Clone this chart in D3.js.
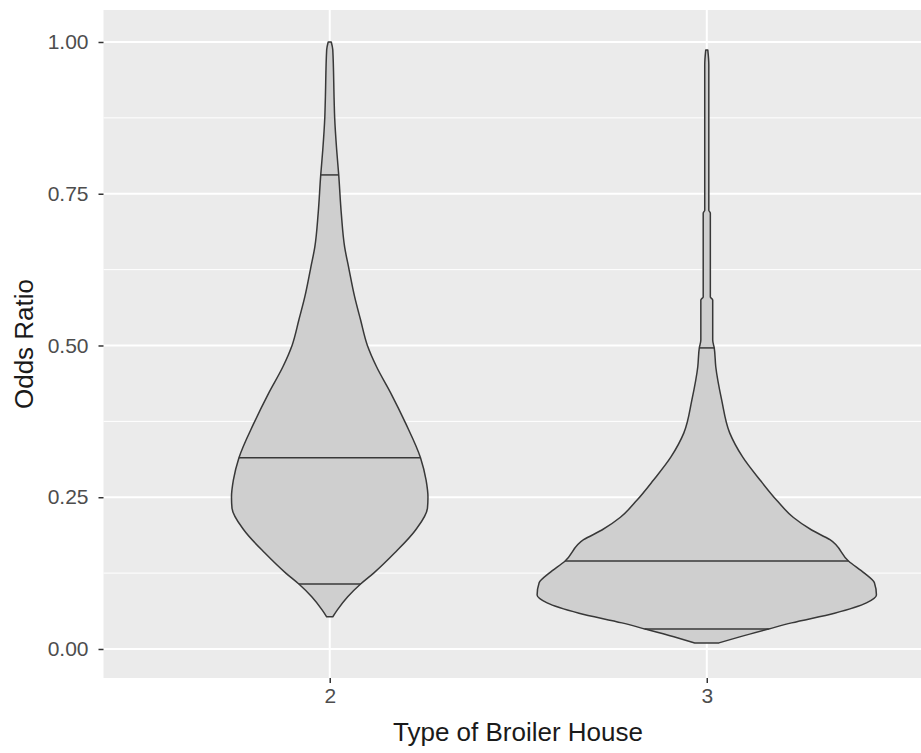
<!DOCTYPE html>
<html>
<head>
<meta charset="utf-8">
<script src="https://cdn.jsdelivr.net/npm/d3@7"></script>
<style>
  html, body { margin: 0; padding: 0; background: #ffffff; }
  svg { display: block; }
</style>
</head>
<body>
<svg id="chart" width="921" height="753"></svg>
<script>
// Broiler house types on the x axis
const houseTypes = ["2", "3"];

// Y-axis ticks (odds ratio)
const yTicks = [0, 0.25, 0.5, 0.75, 1.0];
const yTickLabels = ["0.00", "0.25", "0.50", "0.75", "1.00"];
const yMinorTicks = [0.125, 0.375, 0.625, 0.875];

// Violin outlines: [odds ratio, relative density width (1 = widest violin)]
const houseTwoDensity = [
  [0.053, 0.018], [0.064, 0.044], [0.086, 0.106], [0.107, 0.182],
  [0.125, 0.259], [0.158, 0.382], [0.196, 0.506], [0.232, 0.576],
  [0.250, 0.579], [0.278, 0.568], [0.315, 0.535], [0.372, 0.447],
  [0.422, 0.359], [0.465, 0.276], [0.501, 0.221], [0.542, 0.182],
  [0.580, 0.147], [0.628, 0.112], [0.662, 0.088], [0.718, 0.068],
  [0.781, 0.053], [0.822, 0.041], [0.876, 0.029], [0.904, 0.026],
  [0.987, 0.018], [1.000, 0.009]
];
const houseThreeDensity = [
  [0.010, 0.071], [0.020, 0.194], [0.033, 0.365], [0.043, 0.500],
  [0.059, 0.753], [0.076, 0.941], [0.089, 1.000], [0.109, 0.988],
  [0.125, 0.929], [0.145, 0.835], [0.180, 0.726], [0.196, 0.618],
  [0.217, 0.509], [0.245, 0.412], [0.278, 0.315], [0.316, 0.212],
  [0.356, 0.135], [0.410, 0.088], [0.465, 0.053], [0.496, 0.044],
  [0.509, 0.035], [0.575, 0.035], [0.580, 0.021], [0.718, 0.021],
  [0.723, 0.012], [0.962, 0.012], [0.987, 0.006]
];

// Quantile lines drawn across each violin (lower, median, upper)
const houseTwoQuantiles = [0.107, 0.315, 0.781];
const houseThreeQuantiles = [0.033, 0.145, 0.496];

const violins = [
  { type: houseTypes[0], density: houseTwoDensity, quantiles: houseTwoQuantiles },
  { type: houseTypes[1], density: houseThreeDensity, quantiles: houseThreeQuantiles }
];

const svg = d3.select("#chart");
const fontFamily = "'Liberation Sans', Arial, sans-serif";

const panel = { left: 103.5, right: 933, top: 10, bottom: 678 };

const x = d3.scalePoint()
  .domain(houseTypes)
  .range([panel.left, panel.right])
  .padding(0.6);

const y = d3.scaleLinear()
  .domain([-0.0478, 1.0527])
  .range([panel.bottom, panel.top]);

// Half-width of a violin: the widest one fills 90% of a category step
const halfWidth = d3.scaleLinear()
  .domain([0, 1])
  .range([0, 0.45 * x.step()]);

// Panel background
svg.append("rect")
  .attr("x", panel.left)
  .attr("y", panel.top)
  .attr("width", panel.right - panel.left)
  .attr("height", panel.bottom - panel.top)
  .attr("fill", "#ebebeb");

// Minor grid lines
svg.append("g")
  .selectAll("line")
  .data(yMinorTicks)
  .join("line")
  .attr("x1", panel.left)
  .attr("x2", panel.right)
  .attr("y1", d => y(d))
  .attr("y2", d => y(d))
  .attr("stroke", "#ffffff")
  .attr("stroke-width", 1);

// Major grid lines
svg.append("g")
  .selectAll("line")
  .data(yTicks)
  .join("line")
  .attr("x1", panel.left)
  .attr("x2", panel.right)
  .attr("y1", d => y(d))
  .attr("y2", d => y(d))
  .attr("stroke", "#ffffff")
  .attr("stroke-width", 2);

svg.append("g")
  .selectAll("line")
  .data(houseTypes)
  .join("line")
  .attr("x1", d => x(d))
  .attr("x2", d => x(d))
  .attr("y1", panel.top)
  .attr("y2", panel.bottom)
  .attr("stroke", "#ffffff")
  .attr("stroke-width", 2);

// Violins
const violinArea = d3.area()
  .curve(d3.curveMonotoneY);

function widthAt(density, v) {
  const i = d3.bisector(d => d[0]).left(density, v);
  if (i <= 0) return density[0][1];
  if (i >= density.length) return density[density.length - 1][1];
  const a = density[i - 1], b = density[i];
  const t = (v - a[0]) / (b[0] - a[0]);
  return a[1] + t * (b[1] - a[1]);
}

const vg = svg.append("g");
violins.forEach(vd => {
  const cx = x(vd.type);
  violinArea
    .y(d => y(d[0]))
    .x0(d => cx - halfWidth(d[1]))
    .x1(d => cx + halfWidth(d[1]));

  vg.append("path")
    .datum(vd.density)
    .attr("d", violinArea)
    .attr("fill", "#cfcfcf")
    .attr("stroke", "#383838")
    .attr("stroke-width", 1.5)
    .attr("stroke-linejoin", "round");

  vg.selectAll(null)
    .data(vd.quantiles)
    .join("line")
    .attr("x1", q => cx - halfWidth(widthAt(vd.density, q)))
    .attr("x2", q => cx + halfWidth(widthAt(vd.density, q)))
    .attr("y1", q => y(q))
    .attr("y2", q => y(q))
    .attr("stroke", "#383838")
    .attr("stroke-width", 1.5);
});

// Y axis
const yAxis = svg.append("g")
  .attr("transform", `translate(${panel.left},0)`)
  .call(d3.axisLeft(y)
    .tickValues(yTicks)
    .tickFormat((d, i) => yTickLabels[i])
    .tickSize(5)
    .tickPadding(10));
yAxis.select(".domain").remove();
yAxis.selectAll(".tick line").attr("stroke", "#333333").attr("stroke-width", 1.5);
yAxis.selectAll(".tick text")
  .attr("fill", "#4d4d4d")
  .style("font-family", fontFamily)
  .style("font-size", "21px");

// X axis
const xAxis = svg.append("g")
  .attr("transform", `translate(0,${panel.bottom})`)
  .call(d3.axisBottom(x)
    .tickSize(5)
    .tickPadding(5));
xAxis.select(".domain").remove();
xAxis.selectAll(".tick line").attr("stroke", "#333333").attr("stroke-width", 1.5);
xAxis.selectAll(".tick text")
  .attr("fill", "#4d4d4d")
  .style("font-family", fontFamily)
  .style("font-size", "21px");

// Axis titles
svg.append("text")
  .attr("x", 518)
  .attr("y", 741)
  .attr("text-anchor", "middle")
  .attr("fill", "#1a1a1a")
  .style("font-family", fontFamily)
  .style("font-size", "26px")
  .text("Type of Broiler House");

svg.append("text")
  .attr("transform", `translate(33,${(panel.top + panel.bottom) / 2}) rotate(-90)`)
  .attr("text-anchor", "middle")
  .attr("fill", "#1a1a1a")
  .style("font-family", fontFamily)
  .style("font-size", "26px")
  .text("Odds Ratio");
</script>
</body>
</html>
